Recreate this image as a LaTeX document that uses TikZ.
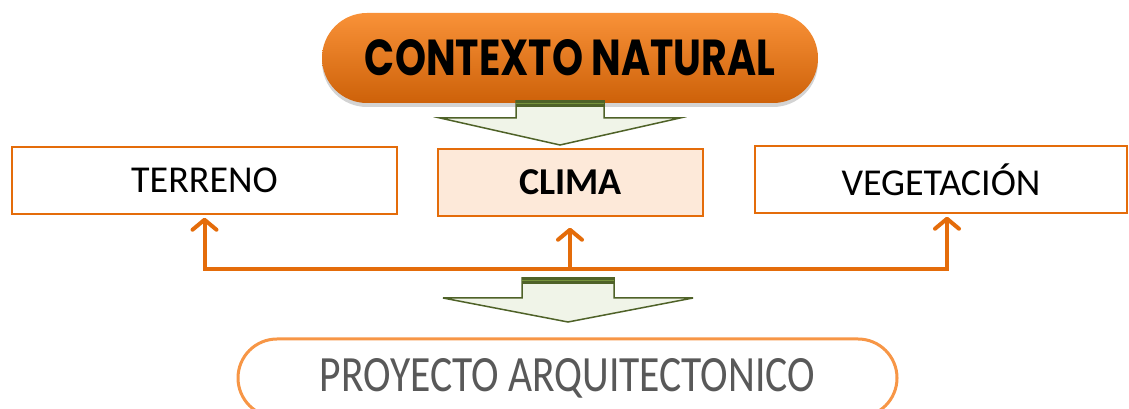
\documentclass[tikz,border=0pt]{standalone}
\usepackage{fontspec}
\usepackage{graphicx}
\setmainfont{Carlito}
\newfontfamily\titlefont{Poppins}
\usetikzlibrary{arrows.meta,shadows}
\definecolor{naranja}{HTML}{E46C0A}
\definecolor{naranjaclaro}{HTML}{F79646}
\definecolor{melocoton}{HTML}{FDE9D9}
\definecolor{verdeosc}{HTML}{4F6228}
\definecolor{verdemed}{HTML}{77933C}
\definecolor{verdeclaro}{HTML}{F0F4E8}
\definecolor{gristexto}{HTML}{595959}

\begin{document}
\begin{tikzpicture}[x=1pt, y=1pt,
  every node/.style = {shape=rectangle, align=center, inner sep=0pt},
  caja/.style = {draw=naranja, line width=1.5pt, minimum height=67pt,
    font=\fontsize{38}{40}\selectfont},
  flecha/.style = {draw=naranja, line width=4pt,
    -{Straight Barb[round,length=10pt,width=24pt]}},
  bloque/.style = {draw=verdeosc, fill=verdeclaro, line width=1.5pt},
 ]
 \useasboundingbox (0,0) rectangle (1129,409);

 \node (contexto) at (570,351) [minimum width=496pt, minimum height=90pt,
   rounded corners=45pt, top color=naranjaclaro!80!orange, bottom color=naranja!90!black,
   drop shadow={shadow xshift=0pt, shadow yshift=-4pt, opacity=0.35}]
   {\resizebox{410pt}{36pt}{\titlefont\bfseries CONTEXTO NATURAL}};

 \node[caja, minimum width=385pt] (terreno) at (204.5,228.5) {TERRENO};
 \node[caja, minimum width=265pt, fill=melocoton] (clima) at (570.5,226.5) {\bfseries CLIMA};
 \node[caja, minimum width=372pt] (vegetacion) at (941,229.5) {VEGETACIÓN};

 \node (proyecto) at (567.5,31) [draw=naranjaclaro, line width=3pt, fill=white,
   minimum width=659pt, minimum height=78pt, rounded corners=39pt, text=gristexto]
   {\resizebox{495pt}{33pt}{PROYECTO ARQUITECTONICO}};

 % flechas verdes
 \draw[bloque] (516,308) -- (516,291) -- (440,291) -- (560,264) -- (680,291)
   -- (604,291) -- (604,308) -- cycle;
 \fill[verdeosc] (516,302) rectangle (604,308);
 \draw[verdemed, line width=1pt] (516,305) -- (604,305);
 \draw[bloque] (522,131) -- (522,111) -- (443,111) -- (568,87) -- (693,111)
   -- (614,111) -- (614,131) -- cycle;
 \fill[verdeosc] (522,125) rectangle (614,131);
 \draw[verdemed, line width=1pt] (522,128) -- (614,128);

 % conexiones
 \coordinate (centro) at (570,140);
 \draw[flecha, shorten >=3pt] (centro) -| (terreno.south);
 \draw[flecha, shorten >=3pt] (centro) -| ([xshift=6pt]vegetacion.south);
 \draw[flecha, shorten >=11pt] (centro) -- (centro |- clima.south);
\end{tikzpicture}
\end{document}
